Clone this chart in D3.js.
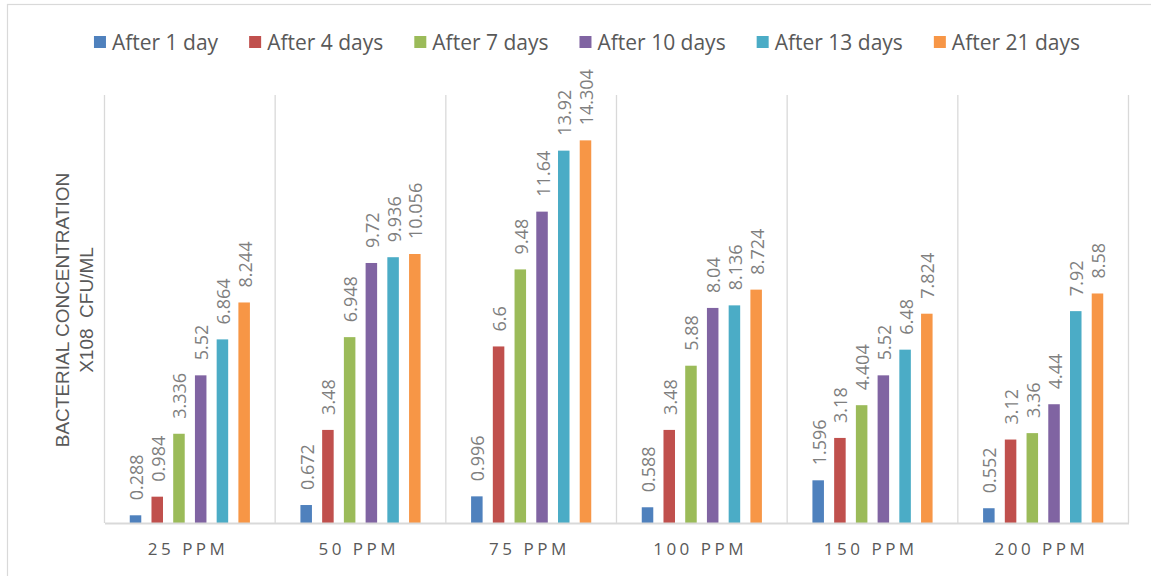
<!DOCTYPE html>
<html>
<head>
<meta charset="utf-8">
<script src="https://cdn.jsdelivr.net/npm/d3@7"></script>
<style>
  html, body { margin: 0; padding: 0; background: #fff; }
  svg { display: block; }
</style>
</head>
<body>
<div id="chart"></div>
<script>
// Bacterial concentration by dose and incubation time
const categories = ["25 PPM", "50 PPM", "75 PPM", "100 PPM", "150 PPM", "200 PPM"];
const seriesNames = ["After 1 day", "After 4 days", "After 7 days", "After 10 days", "After 13 days", "After 21 days"];
const after1 = [0.288, 0.672, 0.996, 0.588, 1.596, 0.552];
const after4 = [0.984, 3.48, 6.6, 3.48, 3.18, 3.12];
const after7 = [3.336, 6.948, 9.48, 5.88, 4.404, 3.36];
const after10 = [5.52, 9.72, 11.64, 8.04, 5.52, 4.44];
const after13 = [6.864, 9.936, 13.92, 8.136, 6.48, 7.92];
const after21 = [8.244, 10.056, 14.304, 8.724, 7.824, 8.58];
const yMax = 16;
const colors = ["#4F81BD", "#C0504D", "#9BBB59", "#8064A2", "#4BACC6", "#F79646"];

const seriesValues = [after1, after4, after7, after10, after13, after21];

const W = 1151, H = 576;
const plot = { left: 104.5, right: 1128.5, top: 95, bottom: 523 };
const fontFamily = "'Open Sans', 'Noto Sans', sans-serif";
const titleFont = "'Liberation Sans', Arial, sans-serif";

const svg = d3.select("#chart").append("svg")
  .attr("width", W).attr("height", H);

// outer chart frame
svg.append("rect")
  .attr("x", 7.5).attr("y", 4.5)
  .attr("width", W + 10).attr("height", H + 10)
  .attr("fill", "#fff").attr("stroke", "#d9d9d9").attr("stroke-width", 1.2);

const x0 = d3.scaleBand().domain(categories).range([plot.left, plot.right]).padding(0);
const groupW = x0.bandwidth() * 0.704;
const x1 = d3.scaleBand().domain(seriesNames).range([0, groupW]).paddingInner(0.47).paddingOuter(0);
const y = d3.scaleLinear().domain([0, yMax]).range([plot.bottom, plot.top]);

// category separators
const seps = categories.map(c => x0(c)).concat([plot.right]);
svg.append("g").selectAll("line").data(seps).join("line")
  .attr("x1", d => d).attr("x2", d => d)
  .attr("y1", plot.top).attr("y2", plot.bottom)
  .attr("stroke", "#d9d9d9").attr("stroke-width", 1.3);

// bars and value labels
const groups = svg.append("g").selectAll("g").data(categories).join("g")
  .attr("transform", c => `translate(${x0(c) + (x0.bandwidth() - groupW) / 2},0)`);

groups.each(function(c, ci) {
  const g = d3.select(this);
  seriesNames.forEach((s, si) => {
    const v = seriesValues[si][ci];
    g.append("rect")
      .attr("x", x1(s)).attr("width", x1.bandwidth())
      .attr("y", y(v)).attr("height", y(0) - y(v))
      .attr("fill", colors[si]);
    const cx = x1(s) + x1.bandwidth() / 2;
    g.append("text")
      .attr("transform", `translate(${cx + 0.5},${y(v) - 15}) rotate(-90)`)
      .attr("text-anchor", "start")
      .attr("dominant-baseline", "central")
      .attr("font-family", fontFamily)
      .attr("font-size", 18)
      .attr("fill", "#7f7f7f")
      .text(v);
  });
});

// baseline axis
const letterSp = 3.5;
const xAxis = d3.axisBottom(x0).tickSize(0).tickPadding(20);
const axisG = svg.append("g").attr("transform", `translate(0,${plot.bottom})`).call(xAxis);
axisG.select(".domain").attr("stroke", "#d9d9d9").attr("stroke-width", 1.8);
axisG.selectAll("text")
  .attr("dx", -letterSp / 2)
  .attr("font-family", fontFamily)
  .attr("font-size", 17)
  .attr("fill", "#595959")
  .style("letter-spacing", letterSp + "px");

// y-axis title (two lines)
const yTitle = svg.append("text")
  .attr("transform", `translate(69,310) rotate(-90)`)
  .attr("text-anchor", "middle")
  .attr("font-family", titleFont)
  .attr("font-size", 19)
  .attr("fill", "#595959");
yTitle.append("tspan").attr("x", 0).attr("dy", 0).text("BACTERIAL CONCENTRATION");
yTitle.append("tspan").attr("x", 0).attr("dy", 24).attr("xml:space", "preserve").style("white-space", "pre").text("X108  CFU/ML");

// legend, laid out left to right
const legend = svg.append("g");
let lx = 0;
seriesNames.forEach((s, i) => {
  legend.append("rect").attr("x", lx).attr("y", 36).attr("width", 12).attr("height", 12).attr("fill", colors[i]);
  const t = legend.append("text")
    .attr("x", lx + 18).attr("y", 42)
    .attr("dominant-baseline", "central")
    .attr("font-family", fontFamily)
    .attr("font-size", 21)
    .attr("fill", "#595959")
    .text(s);
  const w = t.node().getComputedTextLength();
  lx += 18 + w + (i < seriesNames.length - 1 ? 31 : 0);
});
legend.attr("transform", `translate(${587 - lx / 2},0)`);
</script>
</body>
</html>
